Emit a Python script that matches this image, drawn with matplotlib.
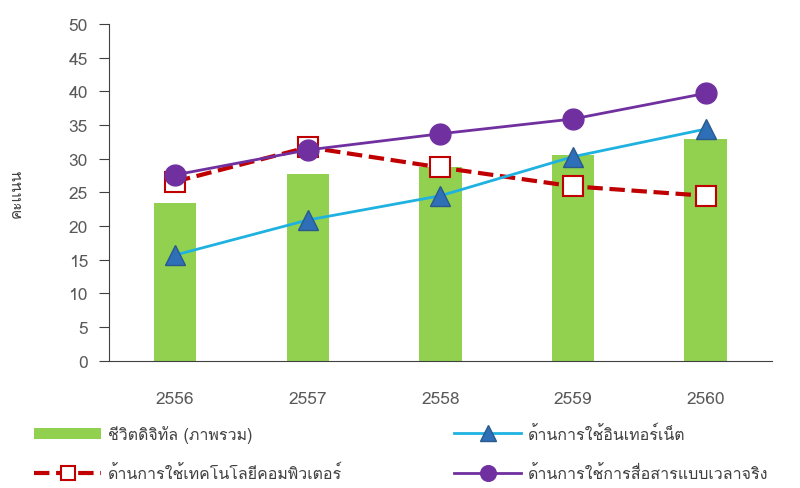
import numpy as np
import matplotlib
matplotlib.use('Agg')
import matplotlib.pyplot as plt
from matplotlib import font_manager
from matplotlib.ft2font import FT2Font

# หา font ที่มีอักษรไทย
thai_font = None
for f in font_manager.fontManager.ttflist:
    try:
        if 0x0E01 in FT2Font(f.fname).get_charmap():
            thai_font = f.name
            break
    except Exception:
        pass
fams = ([thai_font] if thai_font else []) + ['DejaVu Sans']
plt.rcParams['font.family'] = fams

# ข้อมูล
years = ['2556', '2557', '2558', '2559', '2560']
overall = [23.4, 27.7, 28.8, 30.6, 32.9]
computer = [26.6, 31.7, 28.7, 25.9, 24.5]
internet = [15.7, 20.9, 24.5, 30.3, 34.4]
realtime = [27.6, 31.3, 33.7, 35.9, 39.7]

labels = ['ชีวิตดิจิทัล (ภาพรวม)', 'ด้านการใช้เทคโนโลยีคอมพิวเตอร์',
          'ด้านการใช้อินเทอร์เน็ต', 'ด้านการใช้การสื่อสารแบบเวลาจริง']

fig = plt.figure(figsize=(8, 4.89), dpi=100)
ax = fig.add_axes([0.136, 0.26, 0.829, 0.689])
x = np.arange(len(years))

b = ax.bar(x, overall, width=0.32, color='#92D050', zorder=1)
l1, = ax.plot(x, computer, '--', color='#C00000', lw=3, marker='s', ms=14,
              mfc='white', mec='#C00000', mew=1.5, zorder=3)
l2, = ax.plot(x, internet, '-', color='#1FB2E0', lw=2, marker='^', ms=15,
              mfc='#2E6FB7', mec='#2A5A8C', mew=1, zorder=4)
l3, = ax.plot(x, realtime, '-', color='#7030A0', lw=2, marker='o', ms=15,
              mfc='#7030A0', mec='#7030A0', zorder=5)

ax.set_xlim(-0.5, 4.5)
ax.set_ylim(0, 50)
ax.set_yticks(range(0, 51, 5))
ax.set_xticks(x)
ax.set_xticklabels(years)
ax.spines['top'].set_visible(False)
ax.spines['right'].set_visible(False)
ax.spines['left'].set_color('#404040')
ax.spines['bottom'].set_color('#404040')
ax.tick_params(axis='y', length=7, color='#404040', labelcolor='#595959', labelsize=12.5, pad=8)
ax.tick_params(axis='x', length=0, labelcolor='#595959', labelsize=12.5, pad=22)
ax.set_ylabel('คะแนน', fontsize=11, color='#404040', labelpad=32)

# legend สองคอลัมน์
kw = dict(frameon=False, fontsize=11.5, labelcolor='#404040', markerscale=0.75,
          handlelength=4.2, handletextpad=0.4, labelspacing=1.4, loc='lower left')
leg1 = fig.legend([b, l1], labels[:2], bbox_to_anchor=(0.025, -0.018), **kw)
fig.legend([l2, l3], labels[2:], bbox_to_anchor=(0.55, -0.018), **kw)

fig.savefig('out.png', dpi=100)
